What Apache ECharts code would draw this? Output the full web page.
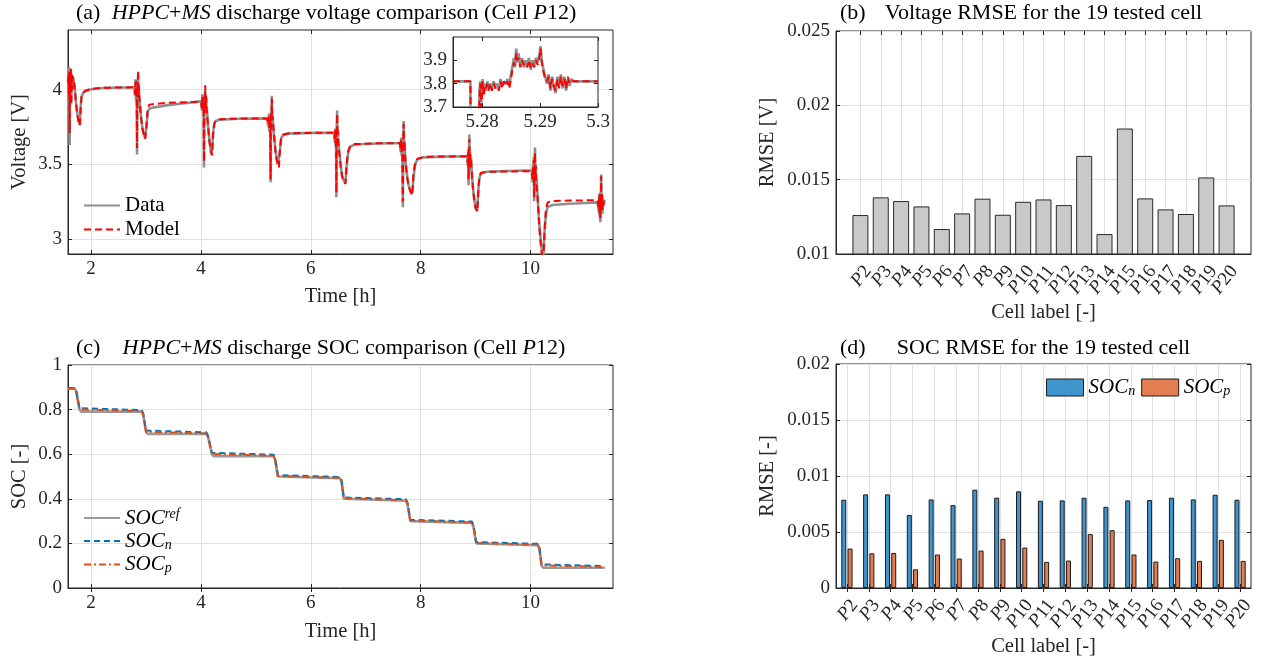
<!DOCTYPE html>
<html><head><meta charset="utf-8">
<script src="https://cdn.jsdelivr.net/npm/echarts@6/dist/echarts.min.js"></script>
<style>html,body{margin:0;padding:0;background:#fff}#c{width:1265px;height:662px}</style>
</head><body><div id="c"></div>
<script>
// ---------------- DATA ----------------
const timeTicks = [2, 4, 6, 8, 10];
const voltTicks = [3, 3.5, 4];
const insetXTicks = [5.28, 5.29, 5.3];
const insetYTicks = [3.7, 3.8, 3.9];
const socTicks = [0, 0.2, 0.4, 0.6, 0.8, 1];
const rmseVTicks = [0.01, 0.015, 0.02, 0.025];
const rmseSocTicks = [0, 0.005, 0.01, 0.015, 0.02];

// (a) measured voltage [t(h), V]
const voltDataPts = [
 [1.580,4.05],[1.590,4.12],[1.597,3.98],[1.603,4.15],[1.610,3.63],[1.617,4.08],[1.625,3.95],[1.633,4.13],[1.640,3.92],[1.648,4.10],[1.656,4.02],[1.665,4.09],[1.680,4.07],[1.700,4.02],[1.725,3.92],[1.750,3.84],[1.775,3.79],[1.795,3.765],[1.810,3.88],[1.825,3.95],[1.850,3.975],[1.900,3.99],[2.000,4.003],[2.200,4.012],[2.500,4.015],[2.790,4.016],
 [2.800,3.96],[2.808,4.07],[2.815,3.93],[2.822,4.05],[2.830,3.99],[2.837,3.567],[2.843,4.04],[2.850,3.95],[2.856,4.10],[2.862,3.97],[2.868,4.02],[2.875,3.96],[2.890,3.90],[2.910,3.82],[2.935,3.74],[2.960,3.70],[2.985,3.675],[3.000,3.67],[3.015,3.78],[3.030,3.85],[3.060,3.873],[3.150,3.882],[3.400,3.897],[3.700,3.910],[4.000,3.922],
 [4.010,3.92],[4.018,3.86],[4.025,3.97],[4.032,3.88],[4.040,3.95],[4.048,3.84],[4.055,3.48],[4.062,3.92],[4.070,3.87],[4.078,4.00],[4.085,3.90],[4.093,3.95],[4.102,3.88],[4.110,3.86],[4.130,3.76],[4.155,3.66],[4.180,3.59],[4.200,3.567],[4.220,3.70],[4.240,3.765],[4.270,3.79],[4.350,3.80],[4.700,3.806],[5.200,3.808],
 [5.222,3.80],[5.230,3.75],[5.238,3.84],[5.245,3.72],[5.253,3.82],[5.260,3.76],[5.268,3.38],[5.275,3.85],[5.283,3.77],[5.290,3.96],[5.297,3.79],[5.305,3.83],[5.313,3.78],[5.330,3.70],[5.355,3.60],[5.380,3.53],[5.400,3.50],[5.420,3.487],[5.440,3.60],[5.460,3.675],[5.500,3.698],[5.600,3.706],[6.000,3.711],[6.420,3.712],
 [6.430,3.70],[6.437,3.65],[6.444,3.74],[6.451,3.62],[6.458,3.72],[6.465,3.28],[6.472,3.75],[6.479,3.86],[6.486,3.68],[6.493,3.73],[6.500,3.66],[6.520,3.58],[6.545,3.49],[6.570,3.42],[6.600,3.39],[6.630,3.373],[6.650,3.48],[6.680,3.58],[6.720,3.62],[6.800,3.633],[7.200,3.640],[7.620,3.643],
 [7.630,3.63],[7.637,3.58],[7.644,3.68],[7.651,3.56],[7.658,3.66],[7.665,3.60],[7.675,3.213],[7.683,3.70],[7.690,3.79],[7.697,3.60],[7.705,3.66],[7.713,3.58],[7.725,3.52],[7.750,3.43],[7.780,3.36],[7.815,3.32],[7.845,3.30],[7.870,3.42],[7.900,3.50],[7.940,3.533],[8.050,3.547],[8.400,3.552],[8.840,3.555],
 [8.850,3.54],[8.857,3.49],[8.864,3.60],[8.871,3.36],[8.878,3.55],[8.885,3.70],[8.892,3.50],[8.900,3.58],[8.908,3.46],[8.917,3.54],[8.925,3.48],[8.935,3.42],[8.955,3.33],[8.980,3.25],[9.005,3.205],[9.030,3.187],[9.050,3.33],[9.070,3.41],[9.095,3.44],[9.200,3.451],[9.600,3.456],[10.020,3.46],
 [10.030,3.44],[10.037,3.38],[10.044,3.50],[10.051,3.40],[10.058,3.55],[10.065,3.253],[10.072,3.48],[10.080,3.613],[10.087,3.42],[10.095,3.50],[10.103,3.36],[10.112,3.40],[10.125,3.30],[10.150,3.15],[10.175,3.03],[10.200,2.94],[10.230,2.87],[10.255,3.05],[10.280,3.17],[10.310,3.215],[10.400,3.228],[10.700,3.236],[11.000,3.242],[11.220,3.246],
 [11.235,3.24],[11.242,3.18],[11.249,3.30],[11.256,3.15],[11.263,3.31],[11.270,3.113],[11.278,3.27],[11.285,3.433],[11.292,3.21],[11.300,3.29],[11.308,3.17],[11.316,3.27],[11.325,3.22],[11.335,3.26],[11.350,3.25]
];
// (a) model voltage [t(h), V]
const voltModelPts = [
 [1.580,4.05],[1.590,4.10],[1.597,3.96],[1.603,4.13],[1.610,3.71],[1.617,4.06],[1.625,3.98],[1.633,4.14],[1.640,3.90],[1.648,4.11],[1.656,4.00],[1.665,4.09],[1.680,4.07],[1.700,4.02],[1.725,3.91],[1.750,3.83],[1.775,3.78],[1.795,3.76],[1.810,3.87],[1.825,3.95],[1.850,3.98],[1.900,3.995],[2.000,4.005],[2.200,4.013],[2.500,4.015],[2.790,4.016],
 [2.800,3.97],[2.808,4.05],[2.815,3.95],[2.822,4.06],[2.830,3.97],[2.837,3.61],[2.843,4.02],[2.850,3.97],[2.856,4.13],[2.862,3.96],[2.868,4.03],[2.875,3.97],[2.890,3.89],[2.910,3.81],[2.935,3.74],[2.960,3.70],[2.985,3.67],[3.000,3.665],[3.015,3.79],[3.030,3.87],[3.060,3.90],[3.150,3.905],[3.400,3.912],[3.700,3.916],[4.000,3.92],
 [4.010,3.92],[4.018,3.88],[4.025,3.95],[4.032,3.87],[4.040,3.96],[4.048,3.86],[4.055,3.52],[4.062,3.90],[4.070,3.88],[4.078,4.03],[4.085,3.89],[4.093,3.96],[4.102,3.87],[4.110,3.86],[4.130,3.75],[4.155,3.65],[4.180,3.59],[4.200,3.56],[4.220,3.70],[4.240,3.77],[4.270,3.795],[4.350,3.803],[4.700,3.807],[5.200,3.808],
 [5.222,3.80],[5.230,3.77],[5.238,3.83],[5.245,3.74],[5.253,3.81],[5.260,3.77],[5.268,3.40],[5.275,3.84],[5.283,3.79],[5.290,3.94],[5.297,3.80],[5.305,3.82],[5.313,3.77],[5.330,3.69],[5.355,3.59],[5.380,3.53],[5.400,3.495],[5.420,3.48],[5.440,3.61],[5.460,3.68],[5.500,3.70],[5.600,3.708],[6.000,3.711],[6.420,3.712],
 [6.430,3.70],[6.437,3.67],[6.444,3.73],[6.451,3.64],[6.458,3.71],[6.465,3.31],[6.472,3.73],[6.479,3.84],[6.486,3.69],[6.493,3.72],[6.500,3.65],[6.520,3.57],[6.545,3.48],[6.570,3.42],[6.600,3.385],[6.630,3.37],[6.650,3.50],[6.680,3.59],[6.720,3.625],[6.800,3.636],[7.200,3.641],[7.620,3.643],
 [7.630,3.64],[7.637,3.60],[7.644,3.67],[7.651,3.58],[7.658,3.65],[7.665,3.61],[7.675,3.25],[7.683,3.68],[7.690,3.77],[7.697,3.62],[7.705,3.65],[7.713,3.57],[7.725,3.51],[7.750,3.42],[7.780,3.355],[7.815,3.315],[7.845,3.295],[7.870,3.44],[7.900,3.51],[7.940,3.538],[8.050,3.55],[8.400,3.553],[8.840,3.555],
 [8.850,3.55],[8.857,3.51],[8.864,3.58],[8.871,3.40],[8.878,3.54],[8.885,3.67],[8.892,3.52],[8.900,3.57],[8.908,3.48],[8.917,3.53],[8.925,3.47],[8.935,3.41],[8.955,3.32],[8.980,3.245],[9.005,3.20],[9.030,3.185],[9.050,3.35],[9.070,3.42],[9.095,3.443],[9.200,3.45],[9.600,3.453],[10.020,3.455],
 [10.030,3.45],[10.037,3.40],[10.044,3.49],[10.051,3.42],[10.058,3.53],[10.065,3.28],[10.072,3.47],[10.080,3.58],[10.087,3.44],[10.095,3.49],[10.103,3.38],[10.112,3.39],[10.125,3.29],[10.150,3.13],[10.175,3.00],[10.200,2.91],[10.230,2.85],[10.255,3.07],[10.280,3.20],[10.310,3.245],[10.400,3.255],[10.700,3.258],[11.000,3.259],[11.220,3.26],
 [11.235,3.25],[11.242,3.20],[11.249,3.29],[11.256,3.17],[11.263,3.30],[11.270,3.14],[11.278,3.28],[11.285,3.42],[11.292,3.22],[11.300,3.30],[11.308,3.19],[11.316,3.26],[11.325,3.23],[11.335,3.25],[11.350,3.255]
];
// inset zoom around t = 5.28-5.30 h
const insetDataPts = [
 [5.2750,3.81],[5.2780,3.81],[5.27805,3.55],[5.2795,3.55],[5.27955,3.76],[5.2797,3.81],[5.2799,3.72],[5.2801,3.82],[5.2803,3.76],[5.2805,3.80],
 [5.2807,3.77],[5.2809,3.81],[5.2811,3.78],[5.2814,3.80],[5.2817,3.78],[5.2820,3.81],[5.2823,3.79],[5.2826,3.80],[5.2829,3.78],[5.2832,3.82],
 [5.2835,3.79],[5.2838,3.81],[5.2841,3.80],[5.2844,3.82],[5.2847,3.79],[5.2850,3.84],[5.2853,3.88],[5.2855,3.91],[5.2857,3.87],[5.2859,3.95],
 [5.2861,3.89],[5.2863,3.93],[5.2866,3.88],[5.2869,3.91],[5.2872,3.87],[5.2875,3.90],[5.2878,3.88],[5.2881,3.91],[5.2884,3.86],[5.2887,3.90],
 [5.2890,3.88],[5.2893,3.91],[5.2896,3.89],[5.2899,3.93],[5.2901,3.96],[5.2903,3.90],[5.2906,3.86],[5.2909,3.83],[5.2912,3.80],[5.2915,3.84],
 [5.2918,3.77],[5.2921,3.83],[5.2924,3.78],[5.2927,3.76],[5.2930,3.83],[5.2933,3.79],[5.2936,3.84],[5.2939,3.78],[5.2942,3.83],[5.2945,3.77],
 [5.2948,3.82],[5.2951,3.79],[5.2954,3.82],[5.2958,3.81],[5.3000,3.81]
];
const insetModelPts = [
 [5.2750,3.81],[5.2780,3.81],[5.27805,3.55],[5.2795,3.55],[5.27955,3.74],[5.2797,3.80],[5.2799,3.70],[5.2801,3.81],[5.2803,3.75],[5.2805,3.79],
 [5.2807,3.78],[5.2809,3.80],[5.2811,3.77],[5.2814,3.80],[5.2817,3.77],[5.2820,3.80],[5.2823,3.78],[5.2826,3.79],[5.2829,3.77],[5.2832,3.81],
 [5.2835,3.78],[5.2838,3.81],[5.2841,3.79],[5.2844,3.81],[5.2847,3.78],[5.2850,3.82],[5.2853,3.87],[5.2855,3.89],[5.2857,3.88],[5.2859,3.93],
 [5.2861,3.90],[5.2863,3.91],[5.2866,3.87],[5.2869,3.90],[5.2872,3.88],[5.2875,3.89],[5.2878,3.87],[5.2881,3.90],[5.2884,3.87],[5.2887,3.89],
 [5.2890,3.87],[5.2893,3.90],[5.2896,3.88],[5.2899,3.91],[5.2901,3.95],[5.2903,3.89],[5.2906,3.85],[5.2909,3.82],[5.2912,3.81],[5.2915,3.83],
 [5.2918,3.78],[5.2921,3.82],[5.2924,3.79],[5.2927,3.77],[5.2930,3.82],[5.2933,3.78],[5.2936,3.83],[5.2939,3.79],[5.2942,3.82],[5.2945,3.78],
 [5.2948,3.83],[5.2951,3.80],[5.2954,3.81],[5.2958,3.81],[5.3000,3.81]
];

// (c) SOC comparison
const socTime = [1.58,1.70, 1.73,1.79,1.82,2.92, 2.95,3.00,3.03,4.10, 4.13,4.20,4.23,5.32, 5.35,5.40,5.43,6.53, 6.56,6.60,6.63,7.73, 7.76,7.81,7.84,8.93, 8.96,9.01,9.04,10.13, 10.16,10.20,10.23,11.35];
const socRef = [0.895,0.895, 0.88,0.80,0.791,0.791, 0.775,0.70,0.691,0.691, 0.675,0.60,0.591,0.591, 0.575,0.50,0.492,0.492, 0.475,0.40,0.392,0.392, 0.375,0.30,0.292,0.292, 0.275,0.20,0.192,0.192, 0.175,0.10,0.091,0.091];
const socN   = [0.897,0.897, 0.883,0.806,0.798,0.798, 0.783,0.706,0.698,0.698, 0.683,0.606,0.598,0.598, 0.583,0.506,0.498,0.498, 0.483,0.406,0.398,0.398, 0.383,0.306,0.298,0.298, 0.283,0.206,0.198,0.198, 0.183,0.106,0.098,0.098];
const socP   = [0.893,0.893, 0.879,0.801,0.793,0.793, 0.778,0.701,0.693,0.693, 0.678,0.601,0.593,0.593, 0.578,0.502,0.494,0.494, 0.479,0.402,0.394,0.394, 0.379,0.302,0.294,0.294, 0.279,0.202,0.194,0.194, 0.179,0.102,0.094,0.094];

// (b), (d) RMSE per cell
const cells = ['P2','P3','P4','P5','P6','P7','P8','P9','P10','P11','P12','P13','P14','P15','P16','P17','P18','P19','P20'];
const rmseV = [0.01262,0.01381,0.01356,0.0132,0.01168,0.01273,0.01372,0.01264,0.01351,0.01367,0.01329,0.0166,0.01134,0.01844,0.01374,0.0130,0.01269,0.01515,0.01327];
const rmseSocN = [0.00788,0.00836,0.00836,0.00651,0.00791,0.0074,0.00878,0.00806,0.00863,0.00779,0.00782,0.00806,0.00725,0.00782,0.00785,0.00806,0.00791,0.00833,0.00788];
const rmseSocP = [0.00352,0.0031,0.00313,0.00167,0.00299,0.00263,0.00334,0.00439,0.00361,0.00233,0.00245,0.00481,0.00516,0.00299,0.00236,0.00266,0.00242,0.0043,0.00242];

// ---------------- STYLE / BUILD ----------------
const FONT = "'Liberation Serif', 'Times New Roman', serif";
const AX = '#262626';
const GRIDC = '#e0e0e0';
const TICK_FS = 19, NAME_FS = 20.5, TITLE_FS = 22, LEG_FS = 21;
const cellIdx = cells.map((c, i) => i + 1);

// (b) x-range is [-0.2, 20.2]; label band grid spans the 19 unit bands centred on 1..19
const bUnit = 415 / 20.4;
const grids = [
  {left: 68, top: 30, width: 545, height: 224},
  {left: 453, top: 37, width: 145, height: 70, z: 10, backgroundColor: '#fff'},
  {left: 836, top: 31, width: 415, height: 223},
  {left: 68, top: 365, width: 545, height: 223},
  {left: 836, top: 364, width: 415, height: 224}
].map(g => Object.assign({show: true, borderColor: AX, borderWidth: 1}, g)).concat([
  {show: false, left: 836 + 0.7 * bUnit, top: 31, width: 19 * bUnit, height: 223},
  {show: false, left: 836, top: 364, width: 415, height: 224}
]);

function mainAxis(kind, grid, min, max, ticks, o) {
  o = o || {};
  return {
    type: 'value', gridIndex: grid, min: min, max: max,
    position: kind === 'x' ? 'bottom' : 'left', z: o.z || 0,
    axisLine: {show: true, onZero: false, lineStyle: {color: AX, width: 1}},
    axisTick: {show: true, inside: true, length: 4, customValues: ticks, lineStyle: {color: AX, width: 1}},
    axisLabel: {show: o.noLabel ? false : true, customValues: ticks, margin: 6, color: AX, fontFamily: FONT, fontSize: TICK_FS},
    splitLine: {show: o.split !== false, lineStyle: {color: GRIDC, width: 1}},
    name: o.name || '', nameLocation: 'middle', nameGap: o.nameGap || 30,
    nameTextStyle: {color: AX, fontFamily: FONT, fontSize: NAME_FS}
  };
}
function mirrorAxis(kind, grid, min, max, ticks, z) {
  return {
    type: 'value', gridIndex: grid, min: min, max: max, z: z || 0,
    position: kind === 'x' ? 'top' : 'right',
    axisLine: {show: false},
    axisTick: {show: true, inside: true, length: 4, customValues: ticks, lineStyle: {color: AX, width: 1}},
    axisLabel: {show: false, customValues: ticks},
    splitLine: {show: false}
  };
}
function cellLabelAxis(grid) {
  return {
    type: 'category', gridIndex: grid, data: cells, boundaryGap: true, position: 'bottom',
    axisLine: {show: false}, axisTick: {show: false}, splitLine: {show: false},
    axisLabel: {interval: 0, rotate: 52, margin: 8, verticalAlign: 'top', color: AX, fontFamily: FONT, fontSize: TICK_FS,
      formatter: n => '{i|P}' + n.slice(1),
      rich: {i: {fontStyle: 'italic', fontFamily: FONT, fontSize: TICK_FS, color: AX}}},
    name: 'Cell label [-]', nameLocation: 'middle', nameGap: 48,
    nameTextStyle: {color: AX, fontFamily: FONT, fontSize: NAME_FS}
  };
}

const xAxes = [
  mainAxis('x', 0, 1.58, 11.5, timeTicks, {name: 'Time [h]', nameGap: 32}),
  mirrorAxis('x', 0, 1.58, 11.5, timeTicks),
  mainAxis('x', 1, 5.275, 5.3, insetXTicks, {split: false, z: 12}),
  mirrorAxis('x', 1, 5.275, 5.3, insetXTicks, 12),
  mainAxis('x', 2, -0.2, 20.2, cellIdx, {noLabel: true}),
  mirrorAxis('x', 2, -0.2, 20.2, cellIdx),
  mainAxis('x', 3, 1.58, 11.5, timeTicks, {name: 'Time [h]', nameGap: 33}),
  mirrorAxis('x', 3, 1.58, 11.5, timeTicks),
  mainAxis('x', 4, 0.5, 19.5, cellIdx, {noLabel: true}),
  mirrorAxis('x', 4, 0.5, 19.5, cellIdx),
  cellLabelAxis(5),
  cellLabelAxis(6)
];
const yAxes = [
  mainAxis('y', 0, 2.9, 4.4, voltTicks, {name: 'Voltage [V]', nameGap: 38}),
  mirrorAxis('y', 0, 2.9, 4.4, voltTicks),
  mainAxis('y', 1, 3.7, 4.0, insetYTicks, {split: false, z: 12}),
  mirrorAxis('y', 1, 3.7, 4.0, insetYTicks, 12),
  mainAxis('y', 2, 0.01, 0.025, rmseVTicks, {name: 'RMSE [V]', nameGap: 58}),
  mirrorAxis('y', 2, 0.01, 0.025, rmseVTicks),
  mainAxis('y', 3, 0, 1, socTicks, {name: 'SOC [-]', nameGap: 38}),
  mirrorAxis('y', 3, 0, 1, socTicks),
  mainAxis('y', 4, 0, 0.02, rmseSocTicks, {name: 'RMSE [-]', nameGap: 58}),
  mirrorAxis('y', 4, 0, 0.02, rmseSocTicks),
  {type: 'value', gridIndex: 5, show: false},
  {type: 'value', gridIndex: 6, show: false}
];

const legRich = {
  i: {fontFamily: FONT, fontStyle: 'italic', fontSize: LEG_FS, lineHeight: 22, color: '#000'},
  sub: {fontFamily: FONT, fontStyle: 'italic', fontSize: 14, lineHeight: 12, verticalAlign: 'bottom', color: '#000'},
  sup: {fontFamily: FONT, fontStyle: 'italic', fontSize: 14, lineHeight: 12, verticalAlign: 'top', color: '#000'}
};
const legNames = {
  SOCref: '{i|SOC}{sup|ref}', SOCn_l: '{i|SOC}{sub|n}', SOCp_l: '{i|SOC}{sub|p}',
  SOCn_b: '{i|SOC}{sub|n}', SOCp_b: '{i|SOC}{sub|p}'
};

const lineBase = {type: 'line', symbol: 'none', silent: true, animation: false};
const series = [
  Object.assign({}, lineBase, {name: 'Data', xAxisIndex: 0, yAxisIndex: 0, data: voltDataPts, z: 2,
    itemStyle: {color: '#8f8f8f'}, lineStyle: {color: '#8f8f8f', width: 2.6}}),
  Object.assign({}, lineBase, {name: 'Model', xAxisIndex: 0, yAxisIndex: 0, data: voltModelPts, z: 3,
    itemStyle: {color: '#ff0000'}, lineStyle: {color: '#ff0000', width: 2, type: [7, 4]}}),
  Object.assign({}, lineBase, {name: 'insetData', xAxisIndex: 2, yAxisIndex: 2, data: insetDataPts, z: 11,
    itemStyle: {color: '#8f8f8f'}, lineStyle: {color: '#8f8f8f', width: 2.6}}),
  Object.assign({}, lineBase, {name: 'insetModel', xAxisIndex: 2, yAxisIndex: 2, data: insetModelPts, z: 11,
    itemStyle: {color: '#ff0000'}, lineStyle: {color: '#ff0000', width: 2, type: [7, 4]}}),
  {name: 'RMSEV', type: 'bar', xAxisIndex: 4, yAxisIndex: 4, barWidth: 16, silent: true,
    data: cells.map((c, i) => [i + 1, rmseV[i]]),
    itemStyle: {color: '#c9c9c9', borderColor: '#2a2a2a', borderWidth: 1}},
  Object.assign({}, lineBase, {name: 'SOCref', xAxisIndex: 6, yAxisIndex: 6, data: socTime.map((t, i) => [t, socRef[i]]), z: 2,
    itemStyle: {color: '#9a9a9a'}, lineStyle: {color: '#9a9a9a', width: 2.6}}),
  Object.assign({}, lineBase, {name: 'SOCn_l', xAxisIndex: 6, yAxisIndex: 6, data: socTime.map((t, i) => [t, socN[i]]), z: 3,
    itemStyle: {color: '#0072BD'}, lineStyle: {color: '#0072BD', width: 2, type: [6, 4]}}),
  Object.assign({}, lineBase, {name: 'SOCp_l', xAxisIndex: 6, yAxisIndex: 6, data: socTime.map((t, i) => [t, socP[i]]), z: 4,
    itemStyle: {color: '#D95319'}, lineStyle: {color: '#D95319', width: 2, type: [7, 3, 2, 3]}}),
  {name: 'SOCn_b', type: 'bar', xAxisIndex: 8, yAxisIndex: 8, barWidth: 5, barGap: '25%', silent: true,
    data: cells.map((c, i) => [i + 1, rmseSocN[i]]),
    itemStyle: {color: '#4095ce', borderColor: '#1a1a1a', borderWidth: 1}},
  {name: 'SOCp_b', type: 'bar', xAxisIndex: 8, yAxisIndex: 8, barWidth: 5, barGap: '25%', silent: true,
    data: cells.map((c, i) => [i + 1, rmseSocP[i]]),
    itemStyle: {color: '#e37e53', borderColor: '#1a1a1a', borderWidth: 1}}
];

const titleStyle = {fontFamily: FONT, fontSize: TITLE_FS, fontWeight: 'normal', color: '#000',
  rich: {it: {fontFamily: FONT, fontSize: TITLE_FS, fontStyle: 'italic', color: '#000'}}};
function ttl(text, left, top, align) {
  return {text: text, left: left, top: top, textAlign: align, padding: 0, textStyle: titleStyle};
}

const option = {
  animation: false,
  backgroundColor: '#fff',
  title: [
    ttl('(a)', 76, 2, 'left'),
    ttl('{it|HPPC}+{it|MS} discharge voltage comparison (Cell {it|P}12)', 344, 2, 'center'),
    ttl('(b)', 840, 2, 'left'),
    ttl('Voltage RMSE for the 19 tested cell', 1043.5, 2, 'center'),
    ttl('(c)', 76, 337, 'left'),
    ttl('{it|HPPC}+{it|MS} discharge SOC comparison (Cell {it|P}12)', 344, 337, 'center'),
    ttl('(d)', 840, 337, 'left'),
    ttl('SOC RMSE for the 19 tested cell', 1043.5, 337, 'center')
  ],
  grid: grids,
  xAxis: xAxes,
  yAxis: yAxes,
  legend: [
    {data: ['Data', 'Model'], orient: 'vertical', left: 83, top: 195, padding: 0,
      itemWidth: 36, itemHeight: 14, itemGap: 3, selectedMode: false,
      itemStyle: {opacity: 0},
      textStyle: {fontFamily: FONT, fontSize: LEG_FS, color: '#000'}},
    {data: ['SOCref', 'SOCn_l', 'SOCp_l'], orient: 'vertical', left: 83, top: 507, padding: 0,
      itemWidth: 36, itemHeight: 14, itemGap: 2, selectedMode: false,
      itemStyle: {opacity: 0},
      formatter: n => legNames[n], textStyle: {fontFamily: FONT, fontSize: LEG_FS, color: '#000', rich: legRich}},
    {data: ['SOCn_b', 'SOCp_b'], orient: 'horizontal', left: 1046, top: 377, padding: 0,
      itemWidth: 37, itemHeight: 17, itemGap: 6, icon: 'rect', selectedMode: false,
      itemStyle: {borderColor: '#1a1a1a', borderWidth: 1},
      formatter: n => legNames[n], textStyle: {fontFamily: FONT, fontSize: LEG_FS, color: '#000', rich: legRich}}
  ],
  series: series
};

const chart = echarts.init(document.getElementById('c'), null, {renderer: 'canvas'});
chart.setOption(option);
</script>
</body></html>
